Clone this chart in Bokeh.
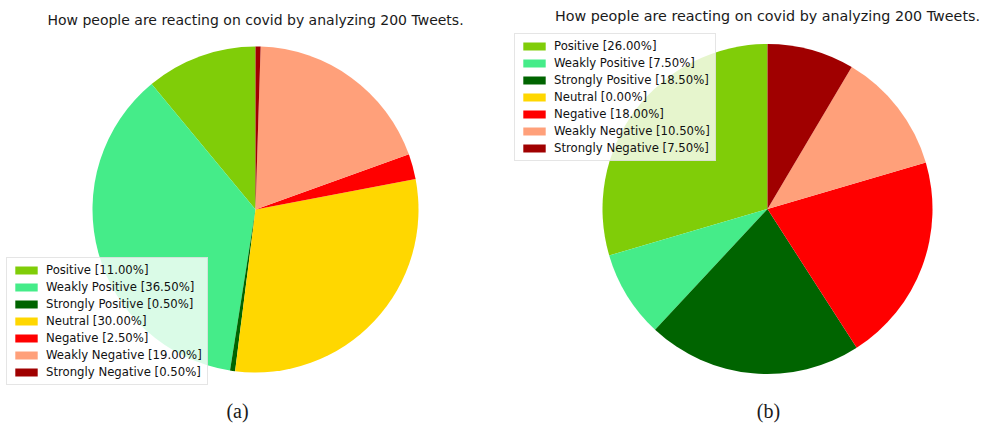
import math
from bokeh.plotting import figure
from bokeh.models import Range1d, Label, Legend, LegendItem, ColumnDataSource
from bokeh.core.properties import field
from bokeh.embed import file_html
from bokeh.resources import INLINE

# ---- data ----
categories = ["Positive", "Weakly Positive", "Strongly Positive", "Neutral",
              "Negative", "Weakly Negative", "Strongly Negative"]
values_a = [11.0, 36.5, 0.5, 30.0, 2.5, 19.0, 0.5]
values_b = [26.0, 7.5, 18.5, 0.0, 18.0, 10.5, 7.5]
colors = ["#80CD08", "#45EC89", "#006400", "#FFD700",
          "#FF0000", "#FFA07A", "#A00000"]
title_text = "How people are reacting on covid by analyzing 200 Tweets."
captions = ["(a)", "(b)"]

W, H = 985, 425
p = figure(width=W, height=H, output_backend="svg", toolbar_location=None,
           x_range=Range1d(0, W), y_range=Range1d(0, H),
           min_border=0, x_axis_location=None, y_axis_location=None,
           outline_line_color=None)
p.xgrid.visible = False
p.ygrid.visible = False
p.background_fill_color = "white"


def pie_source(vals, radius):
    total = sum(vals)
    starts, ends = [], []
    acc = 0.0
    for v in vals:
        s = math.pi / 2 + 2 * math.pi * acc / total
        acc += v
        e = math.pi / 2 + 2 * math.pi * acc / total
        starts.append(s)
        ends.append(e)
    labels = [f"{c} [{v:.2f}%]" for c, v in zip(categories, vals)]
    # an empty slice gets no radius (a zero-angle arc would be drawn as a full circle)
    radii = [radius if v > 0 else 0 for v in vals]
    return ColumnDataSource(dict(start=starts, end=ends, color=colors,
                                 label=labels, r=radii))


def y(sy):
    return H - sy


panels = [
    dict(vals=values_a, cx=255, cy=209, r=163, tx=255, ty=19, tsize="14px",
         capx=237, legloc=(6, H - 385)),
    dict(vals=values_b, cx=767, cy=208.5, r=165, tx=767, ty=15, tsize="14.3px",
         capx=768, legloc=(514, H - 161)),
]

for i, pn in enumerate(panels):
    src = pie_source(pn["vals"], pn["r"])
    r = p.wedge(x=pn["cx"], y=y(pn["cy"]), radius="r",
                start_angle="start", end_angle="end", direction="anticlock",
                fill_color="color", line_color=None, source=src)
    leg = Legend(items=[LegendItem(label=field("label"), renderers=[r])],
                 location=pn["legloc"], padding=5, spacing=3,
                 label_height=14, glyph_height=10, glyph_width=28,
                 label_standoff=6, label_text_font="DejaVu Sans",
                 label_text_font_size="11.7px", label_text_color="#111111",
                 background_fill_color="white", background_fill_alpha=0.8,
                 border_line_color="#cccccc", border_line_width=1,
                 margin=0)
    p.add_layout(leg)
    p.add_layout(Label(x=pn["tx"], y=y(pn["ty"]), text=title_text,
                       text_align="center", text_baseline="middle",
                       text_font="DejaVu Sans", text_font_size=pn["tsize"],
                       text_color="#1a1a1a"))
    p.add_layout(Label(x=pn["capx"], y=y(410), text=captions[i],
                       text_align="center", text_baseline="middle",
                       text_font="Liberation Serif", text_font_size="20px",
                       text_color="#1a1a1a"))

open("out.html", "w").write(file_html(p, INLINE))
